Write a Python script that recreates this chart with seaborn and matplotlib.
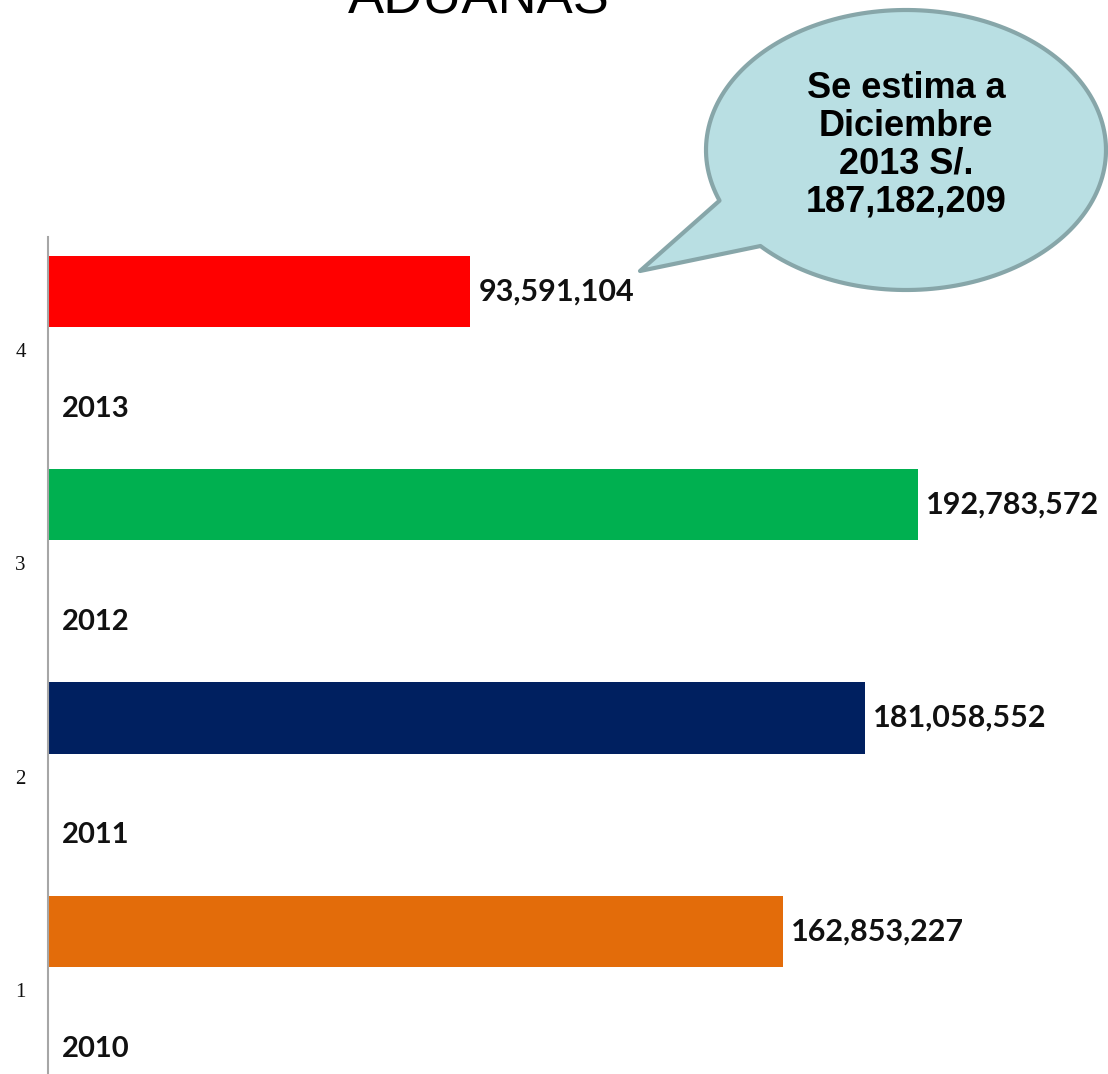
import numpy as np
import matplotlib
matplotlib.use('Agg')
import matplotlib.pyplot as plt
from matplotlib.path import Path
from matplotlib.patches import PathPatch
import seaborn as sns
import pandas as pd

# Datos del grafico
categorias = ['1', '2', '3', '4']
anios = ['2010', '2011', '2012', '2013']
montos = [162853227, 181058552, 192783572, 93591104]
colores = ['#e36c0a', '#002060', '#00b050', '#ff0000']
titulo = 'ADUANAS'
nota = 'Se estima a\nDiciembre\n2013 S/.\n187,182,209'

W, H = 1108, 1074

sns.set_style('white')
plt.rcParams['font.family'] = ['Lato', 'DejaVu Sans']
plt.rcParams['text.color'] = '#111111'

fig = plt.figure(figsize=(W / 100, H / 100), dpi=100)
ax = fig.add_axes([48 / W, 0, 1060 / W, (H - 237) / H])

# dos series: montos y una serie vacia que lleva el rotulo del anio
df = pd.DataFrame({
    'cat': categorias + categorias,
    'valor': montos + [0] * len(categorias),
    'serie': ['monto'] * len(categorias) + ['anio'] * len(categorias),
})
orden = categorias[::-1]
sns.barplot(data=df, y='cat', x='valor', hue='serie', order=orden,
            hue_order=['monto', 'anio'], orient='h', width=1.1, gap=0.39,
            errorbar=None, legend=False, palette=['#000000', '#ffffff'], ax=ax)

color_de = dict(zip(categorias, colores))
monto_de = dict(zip(categorias, montos))
anio_de = dict(zip(categorias, anios))

def cat_of(patch):
    yc = patch.get_y() + patch.get_height() / 2
    return orden[int(round(yc))]

cont_monto, cont_anio = ax.containers[0], ax.containers[1]
for p in cont_monto:
    p.set_facecolor(color_de[cat_of(p)])
    p.set_edgecolor('none')
for p in cont_anio:
    p.set_facecolor('none')
    p.set_edgecolor('none')

ax.bar_label(cont_monto, labels=[f'{monto_de[cat_of(p)]:,}' for p in cont_monto],
             padding=6, fontsize=22, fontweight='bold', color='#111111')
ax.bar_label(cont_anio, labels=[anio_de[cat_of(p)] for p in cont_anio],
             padding=10, fontsize=21, fontweight='bold', color='#111111')

ax.set_xlim(0, 234.9e6)
ax.set_ylim(3.394, -0.53)
ax.set_xlabel('')
ax.set_ylabel('')
ax.set_xticks([])
ax.tick_params(axis='y', length=0, pad=16)
for lbl in ax.get_yticklabels():
    lbl.set_fontfamily(['Liberation Serif', 'DejaVu Serif'])
    lbl.set_fontsize(15)
    lbl.set_color('#111111')
for s in ['top', 'right', 'bottom']:
    ax.spines[s].set_visible(False)
ax.spines['left'].set_color('#a6a6a6')
ax.spines['left'].set_linewidth(1.5)

# titulo (cortado en el borde superior)
fig.text(479 / W, 1 - 13 / H, titulo, ha='center', va='baseline', fontsize=39,
         color='black', family=['Liberation Sans', 'DejaVu Sans'])

# globo de dialogo
cx, cy, a, b = 906, 150, 200, 140
tip = (640, 271)
t1, t2 = np.deg2rad(201.2), np.deg2rad(223.3)
th = np.linspace(t2, t1 + 2 * np.pi, 200)
px = cx + a * np.cos(th)
py = (H - cy) + b * np.sin(th)
verts = list(zip(px / W, py / H)) + [(tip[0] / W, (H - tip[1]) / H), (px[0] / W, py[0] / H)]
codes = [Path.MOVETO] + [Path.LINETO] * (len(verts) - 2) + [Path.CLOSEPOLY]
globo = PathPatch(Path(verts, codes), facecolor='#b9dfe3', edgecolor='#87a6a9',
                  linewidth=3, transform=fig.transFigure, joinstyle='round')
fig.add_artist(globo)
fig.text(cx / W, 1 - 145 / H, nota, ha='center', va='center', fontsize=26,
         fontweight='bold', linespacing=1.1, color='black',
         family=['Liberation Sans', 'DejaVu Sans'])

fig.savefig('out.png', dpi=100)
